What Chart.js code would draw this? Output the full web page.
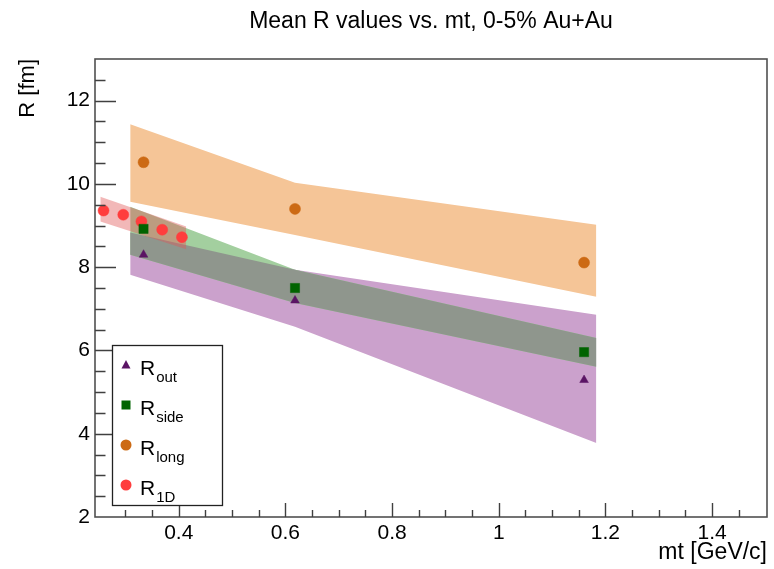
<!DOCTYPE html>
<html><head><meta charset="utf-8">
<script src="https://cdn.jsdelivr.net/npm/chart.js@4/dist/chart.umd.min.js"></script>
<style>html,body{margin:0;padding:0;background:#fff}#wrap{width:774px;height:569px}</style>
</head><body><div id="wrap"><canvas id="c" width="774" height="569"></canvas></div>
<script>
// ---- data ----
const titleText = 'Mean R values vs. mt, 0-5% Au+Au';
const xTitle = 'mt [GeV/c]';
const yTitle = 'R [fm]';
const seriesSubs = ['out', 'side', 'long', '1D'];

const mtMain = [0.334, 0.618, 1.160];
const rOut  = [8.30, 7.20, 5.29];
const rSide = [8.92, 7.50, 5.96];
const rLong = [10.52, 9.40, 8.11];
const mt1D = [0.259, 0.296, 0.330, 0.369, 0.406];
const r1D  = [9.36, 9.26, 9.10, 8.90, 8.72];

const bandMt   = [0.309, 0.618, 1.183];
const outHigh  = [8.83, 7.94, 6.86];
const outLow   = [7.82, 6.57, 3.78];
const sideHigh = [9.45, 7.94, 6.30];
const sideLow  = [8.30, 7.14, 5.61];
const longHigh = [11.43, 10.03, 9.02];
const longLow  = [9.57, 8.77, 7.29];
const band1DMt = [0.253, 0.414];
const high1D   = [9.69, 8.98];
const low1D    = [9.10, 8.43];

const xMajorLabels = [0.4, 0.6, 0.8, 1, 1.2, 1.4];
const yMajorLabels = [2, 4, 6, 8, 10, 12];

// ---- styles ----
const FONT = "'Liberation Sans', Arial, Helvetica, sans-serif";
const colOut = '#5a1464', colSide = '#006400', colLong = '#cc6a14', col1D = '#ff3d3d';
const bandOut = '#cba1cc', bandSide = '#a3cf9f', bandOverlap = '#8f968d', bandLong = '#f5c597', band1D = 'rgba(225,85,85,0.42)';

Chart.defaults.font.family = FONT;

const pts = (xs, ys) => xs.map((x, i) => ({x: x, y: ys[i]}));
const overlapHigh = bandMt.map((_, i) => Math.min(outHigh[i], sideHigh[i]));
const overlapLow  = bandMt.map((_, i) => Math.max(outLow[i], sideLow[i]));

function band(xs, lo, hi, color, order) {
  return [
    {data: pts(xs, lo), showLine: true, borderWidth: 0, pointRadius: 0, fill: false, order: order, borderColor: 'rgba(0,0,0,0)'},
    {data: pts(xs, hi), showLine: true, borderWidth: 0, pointRadius: 0, fill: '-1', backgroundColor: color, order: order, borderColor: 'rgba(0,0,0,0)'}
  ];
}
function markers(xs, ys, style, color, r) {
  return {data: pts(xs, ys), showLine: false, pointStyle: style, pointRadius: r, pointBackgroundColor: color,
          pointBorderColor: color, pointBorderWidth: 0.5, order: 0};
}

const datasets = [
  ...band(bandMt, longLow, longHigh, bandLong, 6),
  ...band(bandMt, outLow, outHigh, bandOut, 5),
  ...band(bandMt, sideLow, sideHigh, bandSide, 4),
  ...band(bandMt, overlapLow, overlapHigh, bandOverlap, 3),
  ...band(band1DMt, low1D, high1D, band1D, 2),
  markers(mtMain, rOut, 'triangle', colOut, 5),
  markers(mtMain, rSide, 'rect', colSide, 6.5),
  markers(mtMain, rLong, 'circle', colLong, 5.5),
  markers(mt1D, r1D, 'circle', col1D, 5.5)
];

const near = (a, b) => Math.abs(a - b) < 1e-6;
const isXMajor = v => xMajorLabels.some(m => near(m, v));
const isYMajor = v => yMajorLabels.some(m => near(m, v));

const decor = {
  id: 'decor',
  afterDraw(chart) {
    const {ctx, chartArea: a, scales: {x, y}} = chart;
    ctx.save();
    // frame
    ctx.strokeStyle = '#505050';
    ctx.lineWidth = 1.6;
    ctx.strokeRect(a.left, a.top, a.right - a.left, a.bottom - a.top);
    // ticks (inward, ROOT style)
    ctx.strokeStyle = '#404040';
    ctx.lineWidth = 1.4;
    ctx.beginPath();
    y.ticks.forEach(t => {
      const v = t.value;
      if (v < y.min + 1e-9 || v > y.max - 1e-9) return;
      if (Math.abs(v * 2 - Math.round(v * 2)) > 1e-6) return;
      const py = Math.round(y.getPixelForValue(v)) + 0.5;
      const len = isYMajor(v) ? 21 : 10.5;
      ctx.moveTo(a.left, py); ctx.lineTo(a.left + len, py);
    });
    x.ticks.forEach(t => {
      const v = t.value;
      if (v < x.min + 1e-9 || v > x.max + 1e-9) return;
      if (Math.abs(v * 20 - Math.round(v * 20)) > 1e-6) return;
      const px = Math.round(x.getPixelForValue(v)) + 0.5;
      const len = isXMajor(v) ? 14 : 7;
      ctx.moveTo(px, a.bottom); ctx.lineTo(px, a.bottom - len);
    });
    ctx.stroke();

    // title
    ctx.fillStyle = '#000';
    ctx.font = '23px ' + FONT;
    ctx.textAlign = 'center';
    ctx.textBaseline = 'middle';
    ctx.fillText(titleText, (a.left + a.right) / 2, 22);

    // x title (right aligned)
    ctx.font = '23px ' + FONT;
    ctx.textAlign = 'right';
    ctx.textBaseline = 'middle';
    ctx.fillText(xTitle, a.right, 553);

    // y title (rotated, aligned to top)
    ctx.save();
    ctx.translate(28, a.top);
    ctx.rotate(-Math.PI / 2);
    ctx.textAlign = 'right';
    ctx.textBaseline = 'middle';
    ctx.font = '22px ' + FONT;
    ctx.fillText(yTitle, 0, 0);
    ctx.restore();

    // legend
    const L = {x: 112, y: 345, w: 110, h: 160};
    ctx.fillStyle = '#fff';
    ctx.fillRect(L.x, L.y, L.w, L.h);
    ctx.strokeStyle = '#222';
    ctx.lineWidth = 1.3;
    ctx.strokeRect(L.x + 0.5, L.y + 0.5, L.w, L.h);
    const entries = [
      {style: 'triangle', color: colOut},
      {style: 'rect', color: colSide},
      {style: 'circle', color: colLong},
      {style: 'circle', color: col1D}
    ];
    entries.forEach((e, i) => {
      const cy = 368 + i * 40;
      const mx = 126, my = cy - 3;
      ctx.fillStyle = e.color;
      ctx.beginPath();
      if (e.style === 'triangle') {
        ctx.moveTo(mx, my - 5); ctx.lineTo(mx + 4.5, my + 3.5); ctx.lineTo(mx - 4.5, my + 3.5); ctx.closePath();
      } else if (e.style === 'rect') {
        ctx.rect(mx - 4.5, my - 4.5, 9, 9);
      } else {
        ctx.arc(mx, my, 5.5, 0, Math.PI * 2);
      }
      ctx.fill();
      ctx.fillStyle = '#000';
      ctx.textAlign = 'left';
      ctx.textBaseline = 'alphabetic';
      ctx.font = '21px ' + FONT;
      ctx.fillText('R', 140, cy + 7);
      const rw = ctx.measureText('R').width;
      ctx.font = '15px ' + FONT;
      ctx.fillText(seriesSubs[i], 140 + rw + 1, cy + 14);
    });
    ctx.restore();
  }
};

new Chart(document.getElementById('c'), {
  type: 'line',
  data: {datasets: datasets},
  options: {
    responsive: false,
    animation: false,
    devicePixelRatio: 1,
    events: [],
    layout: {padding: {top: 59, right: 4, left: 0, bottom: 0}},
    plugins: {legend: {display: false}, tooltip: {enabled: false}, title: {display: false}},
    scales: {
      x: {
        type: 'linear', min: 0.243, max: 1.503,
        afterFit(s) { s.height = 52; },
        grid: {display: false, drawTicks: false},
        border: {display: false},
        ticks: {
          stepSize: 0.05, autoSkip: false, maxRotation: 0, minRotation: 0, padding: 4,
          color: '#000', font: {size: 21, family: FONT},
          callback: v => isXMajor(v) ? String(Number(v.toFixed(1))) : ''
        }
      },
      y: {
        type: 'linear', min: 2, max: 13,
        afterFit(s) { s.width = 95; },
        grid: {display: false, drawTicks: false},
        border: {display: false},
        ticks: {
          stepSize: 0.5, autoSkip: false, padding: 5,
          color: '#000', font: {size: 21, family: FONT},
          callback: v => isYMajor(v) ? String(Math.round(v)) : ''
        }
      }
    }
  },
  plugins: [decor]
});
</script>
</body></html>
